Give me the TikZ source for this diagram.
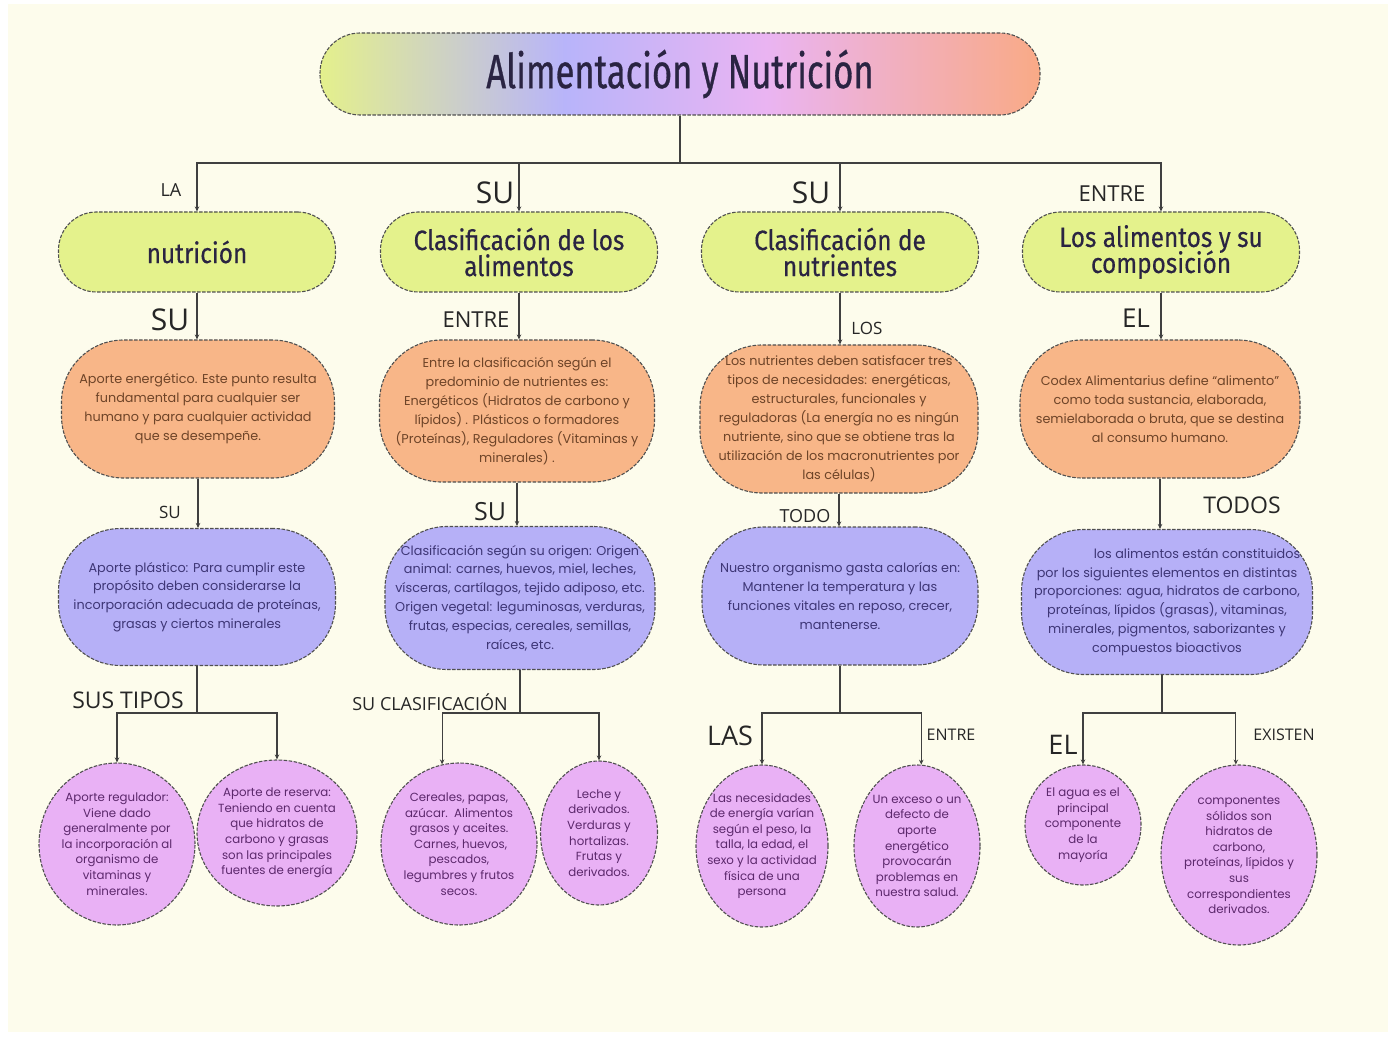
\documentclass[tikz,border=0pt]{standalone}
\usepackage{fontspec}
\setmainfont{Poppins}
\newfontfamily\ttl[FakeStretch=0.72,FakeBold=0.6]{Fira Sans}
\newfontfamily\lvf[FakeStretch=0.87,FakeBold=0.4]{Fira Sans}
\newfontfamily\lbl{Open Sans}
\newcommand{\lvfont}{\lvf\fontsize{28}{26}\selectfont\lineskiplimit -100pt\relax}
\usetikzlibrary{arrows.meta,shapes.geometric,shadings}
\definecolor{bgc}{RGB}{253,252,236}
\definecolor{tA}{RGB}{228,240,140}
\definecolor{tB}{RGB}{184,180,250}
\definecolor{tC}{RGB}{234,180,242}
\definecolor{tD}{RGB}{249,170,134}
\definecolor{lvlc}{RGB}{228,242,140}
\definecolor{orc}{RGB}{248,182,136}
\definecolor{puc}{RGB}{182,176,247}
\definecolor{pkc}{RGB}{233,177,245}
\definecolor{bordc}{RGB}{80,80,80}
\definecolor{titc}{RGB}{42,36,66}
\definecolor{orT}{RGB}{110,68,40}
\definecolor{puT}{RGB}{62,54,118}
\definecolor{pkT}{RGB}{92,40,108}
\pgfdeclarehorizontalshading{titleshade}{100bp}{color(0bp)=(tA); color(25bp)=(tA); color(42bp)=(tB); color(56bp)=(tC); color(75bp)=(tD); color(100bp)=(tD)}
\tikzset{
  box/.style={draw=bordc, dash pattern=on 3.5pt off 1.5pt, line width=1.1pt, align=center, inner sep=0pt},
  titlebox/.style={box, shading=titleshade, rounded corners=40pt, minimum width=720pt, minimum height=82pt, font=\ttl\fontsize{48}{48}\selectfont, text=titc},
  lvl/.style={box, fill=lvlc, rounded corners=38pt, minimum width=277pt, minimum height=80pt, font=\lvfont, text=titc},
  oran/.style={box, fill=orc, rounded corners=62pt, font=\fontsize{12.8}{19}\selectfont, text=orT},
  purp/.style={box, fill=puc, rounded corners=62pt, font=\fontsize{12.8}{18.8}\selectfont, text=puT},
  circ/.style={box, ellipse, fill=pkc},
  ctext/.style={align=center, inner sep=0pt, font=\fontsize{11.8}{15.6}\selectfont, text=pkT},
  lab/.style={font=\lbl, text=black!85, inner sep=0pt},
  arr/.style={-{Stealth[length=5pt,width=4.5pt]}, line width=1.1pt, draw=black!75},
  ln/.style={line width=1.1pt, draw=black!75}
}
\begin{document}
\begin{tikzpicture}[x=1pt,y=-1pt]
\fill[white] (0,0) rectangle (1392,1040);
\fill[bgc] (8,4) rectangle (1388,1032);
\useasboundingbox (0,0) rectangle (1392,1040);

% title
\node[titlebox] (title) at (680,74) {Alimentación y Nutrición};

% level 1
\node[lvl] (n1) at (197,252) {nutrición};
\node[lvl] (n2) at (519,252) {Clasificación de los\\alimentos};
\node[lvl] (n3) at (840,252) {Clasificación de\\nutrientes};
\node[lvl] (n4) at (1161,252) {Los alimentos y su\\composición};

% orange
\node[oran, minimum width=273pt, minimum height=138pt] (o1) at (198,409) {Aporte energético. Este punto resulta\\fundamental para cualquier ser\\humano y para cualquier actividad\\que se desempeñe.};
\node[oran, minimum width=275pt, minimum height=142pt] (o2) at (517,411) {Entre la clasificación según el\\predominio de nutrientes es:\\Energéticos (Hidratos de carbono y\\lípidos) . Plásticos o formadores\\(Proteínas), Reguladores (Vitaminas y\\minerales) .};
\node[oran, minimum width=278pt, minimum height=148pt] (o3) at (839,419) {Los nutrientes deben satisfacer tres\\tipos de necesidades: energéticas,\\estructurales, funcionales y\\reguladoras (La energía no es ningún\\nutriente, sino que se obtiene tras la\\utilización de los macronutrientes por\\las células)};
\node[oran, minimum width=280pt, minimum height=138pt] (o4) at (1160,409) {Codex Alimentarius define “alimento”\\como toda sustancia, elaborada,\\semielaborada o bruta, que se destina\\al consumo humano.};

% purple
\node[purp, minimum width=277pt, minimum height=137pt] (p1) at (197,597) {Aporte plástico: Para cumplir este\\propósito deben considerarse la\\incorporación adecuada de proteínas,\\grasas y ciertos minerales};
\node[purp, minimum width=270pt, minimum height=143pt] (p2) at (520,598) {Clasificación según su origen: Origen\\animal: carnes, huevos, miel, leches,\\vísceras, cartílagos, tejido adiposo, etc.\\Origen vegetal: leguminosas, verduras,\\frutas, especias, cereales, semillas,\\raíces, etc.};
\node[purp, minimum width=276pt, minimum height=138pt] (p3) at (840,596) {Nuestro organismo gasta calorías en:\\Mantener la temperatura y las\\funciones vitales en reposo, crecer,\\mantenerse.};
\node[purp, minimum width=291pt, minimum height=145pt] (p4) at (1167,602) {\hspace*{60pt}los alimentos están constituidos\\por los siguientes elementos en distintas\\proporciones: agua, hidratos de carbono,\\proteínas, lípidos (grasas), vitaminas,\\minerales, pigmentos, saborizantes y\\compuestos bioactivos};

% circles
\node[circ, minimum width=156pt, minimum height=162pt] (c1) at (117,844) {};
\node[circ, minimum width=160pt, minimum height=146pt] (c2) at (277,833) {};
\node[circ, minimum width=156pt, minimum height=162pt] (c3) at (459,844) {};
\node[circ, minimum width=117pt, minimum height=144pt] (c4) at (599,833) {};
\node[circ, minimum width=132pt, minimum height=162pt] (c5) at (762,846) {};
\node[circ, minimum width=126pt, minimum height=162pt] (c6) at (917,846) {};
\node[circ, minimum width=116pt, minimum height=120pt] (c7) at (1083,825) {};
\node[circ, minimum width=156pt, minimum height=180pt] (c8) at (1239,855) {};

\node[ctext] (c1t) at (c1) {Aporte regulador:\\Viene dado\\generalmente por\\la incorporación al\\organismo de\\vitaminas y\\minerales.};
\node[ctext] (c2t) at (c2) {Aporte de reserva:\\Teniendo en cuenta\\que hidratos de\\carbono y grasas\\son las principales\\fuentes de energía};
\node[ctext] (c3t) at (c3) {Cereales, papas,\\azúcar.\ \ Alimentos\\grasos y aceites.\\\ Carnes, huevos,\\pescados,\\legumbres y frutos\\secos.};
\node[ctext] (c4t) at (c4) {Leche y\\derivados.\\Verduras y\\hortalizas.\\Frutas y\\derivados.};
\node[ctext] (c5t) at (c5) {Las necesidades\\de energía varían\\según el peso, la\\talla, la edad, el\\sexo y la actividad\\física de una\\persona};
\node[ctext] (c6t) at (c6) {Un exceso o un\\defecto de\\aporte\\energético\\provocarán\\problemas en\\nuestra salud.};
\node[ctext] (c7t) at (c7) {El agua es el\\principal\\componente\\de la\\mayoría};
\node[ctext] (c8t) at (c8) {componentes\\sólidos son\\hidratos de\\carbono,\\proteínas, lípidos y\\sus\\correspondientes\\derivados.};

% connectors: title to level 1
\coordinate (j0) at (680,163);
\draw[ln] (title.south) -- (j0);
\draw[arr] (j0) -| (n1.north);
\draw[arr] (j0) -| (n2.north);
\draw[arr] (j0) -| (n3.north);
\draw[arr] (j0) -| (n4.north);

% level 1 to orange
\draw[arr] (n1.south) -- (n1.south |- o1.north);
\draw[arr] (n2.south) -- (n2.south |- o2.north);
\draw[arr] (n3.south) -- (n3.south |- o3.north);
\draw[arr] (n4.south) -- (n4.south |- o4.north);

% orange to purple
\draw[arr] (o1.south) -- (o1.south |- p1.north);
\draw[arr] (o2.south) -- (o2.south |- p2.north);
\draw[arr] (o3.south) -- (o3.south |- p3.north);
\draw[arr] (o4.south) -- (o4.south |- p4.north);

% purple to circles
\coordinate (b1) at (197,713);
\coordinate (b2) at (520,713);
\coordinate (b3) at (840,713);
\coordinate (b4) at (1162,713);
\draw[ln] (p1.south) -- (b1);
\draw[ln] (p2.south) -- (b2);
\draw[ln] (p3.south) -- (b3);
\draw[ln] (p4.south -| b4) -- (b4);
\draw[arr] (b1) -| (c1.north);
\draw[arr] (b1) -| (c2.north);
\draw[arr] (b2) -| (c3.102);
\draw[arr] (b2) -| (c4.north);
\draw[arr] (b3) -| (c5.north);
\draw[arr] (b3) -| (c6.87);
\draw[arr] (b4) -| (c7.north);
\draw[arr] (b4) -| (c8.92);

% labels
\node[lab, font=\lbl\fontsize{18}{18}\selectfont] (lLA) at (171,190) {LA};
\node[lab, font=\lbl\fontsize{30}{30}\selectfont] (lSU1) at (495,193) {SU};
\node[lab, font=\lbl\fontsize{30}{30}\selectfont] (lSU2) at (811,193) {SU};
\node[lab, font=\lbl\fontsize{22}{22}\selectfont] (lENTRE1) at (1112,194) {ENTRE};
\node[lab, font=\lbl\fontsize{30}{30}\selectfont] (lSU3) at (170,320) {SU};
\node[lab, font=\lbl\fontsize{22}{22}\selectfont] (lENTRE2) at (476,320) {ENTRE};
\node[lab, font=\lbl\fontsize{17}{17}\selectfont] (lLOS) at (867,328) {LOS};
\node[lab, font=\lbl\fontsize{26}{26}\selectfont] (lEL1) at (1136,318) {EL};
\node[lab, font=\lbl\fontsize{17}{17}\selectfont] (lSU4) at (170,512) {SU};
\node[lab, font=\lbl\fontsize{25}{25}\selectfont] (lSU5) at (490,512) {SU};
\node[lab, font=\lbl\fontsize{18}{18}\selectfont] (lTODO) at (805,516) {TODO};
\node[lab, font=\lbl\fontsize{23}{23}\selectfont] (lTODOS) at (1242,505) {TODOS};
\node[lab, font=\lbl\fontsize{23}{23}\selectfont] (lSUSTIPOS) at (128,700) {SUS TIPOS};
\node[lab, font=\lbl\fontsize{18}{18}\selectfont] (lSUCLAS) at (430,702) {SU CLASIFICACIÓN};
\node[lab, font=\lbl\fontsize{27}{27}\selectfont] (lLAS) at (730,736) {LAS};
\node[lab, font=\lbl\fontsize{16}{16}\selectfont] (lENTRE3) at (951,735) {ENTRE};
\node[lab, font=\lbl\fontsize{27}{27}\selectfont] (lEL2) at (1063,745) {EL};
\node[lab, font=\lbl\fontsize{16}{16}\selectfont] (lEXISTEN) at (1284,735) {EXISTEN};
\end{tikzpicture}
\end{document}
